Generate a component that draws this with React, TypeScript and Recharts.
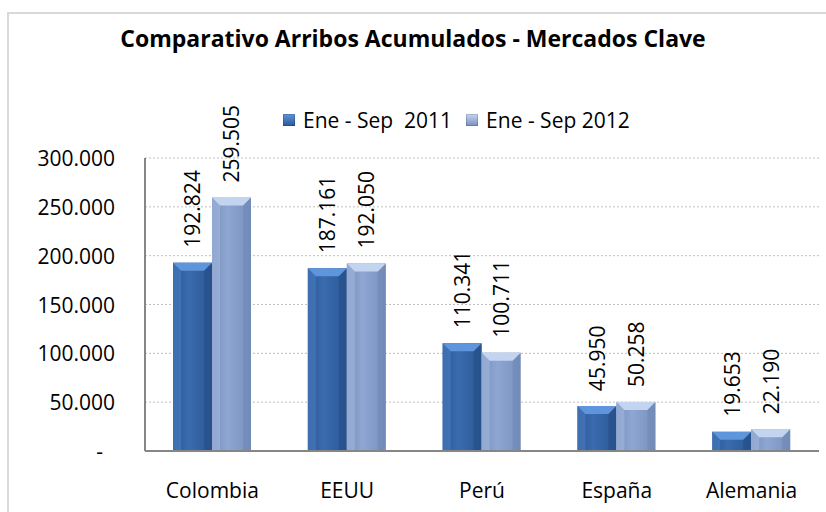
import React from 'react';
import { BarChart, Bar, XAxis, YAxis, CartesianGrid, LabelList } from 'recharts';

const markets = ['Colombia', 'EEUU', 'Perú', 'España', 'Alemania'];
const arrivals2011 = [192824, 187161, 110341, 45950, 19653];
const arrivals2012 = [259505, 192050, 100711, 50258, 22190];
const yTicks = [0, 50000, 100000, 150000, 200000, 250000, 300000];

const seriesNames = ['Ene - Sep  2011', 'Ene - Sep 2012'];

const data = markets.map((m, i) => ({ market: m, a2011: arrivals2011[i], a2012: arrivals2012[i] }));

const FONT = '"Open Sans", "Liberation Sans", sans-serif';

const fmt = (v: number) => String(Math.round(v)).replace(/\B(?=(\d{3})+(?!\d))/g, '.');

const palette: Record<string, { top: string; left: string; right: string; mid: string; edge: string }> = {
  a: { top: '#5F95DC', left: '#4B7DC2', right: '#244C85', mid: '#3A6BAE', edge: '#2B5895' },
  b: { top: '#C2D4EF', left: '#A3B9DE', right: '#6F87B5', mid: '#8EA6D1', edge: '#7890BE' },
};

const BevelBar = (props: any) => {
  const { x, y, width: w, height: h, kind } = props;
  if (!h || h <= 0) return null;
  const c = palette[kind];
  const b = Math.min(8, h / 2, w / 4);
  return (
    <g>
      <rect x={x} y={y} width={w} height={h} fill={`url(#grad-${kind})`} />
      <polygon points={`${x},${y} ${x + b},${y + b} ${x + b},${y + h} ${x},${y + h}`} fill={c.left} opacity={0.6} />
      <polygon points={`${x + w},${y} ${x + w - b},${y + b} ${x + w - b},${y + h} ${x + w},${y + h}`} fill={c.right} opacity={0.55} />
      <polygon points={`${x},${y} ${x + w},${y} ${x + w - b},${y + b} ${x + b},${y + b}`} fill={c.top} />
    </g>
  );
};

const RotLabel = (props: any) => {
  const { x, y, width, value } = props;
  const cx = x + width / 2;
  const ty = y - 15;
  return (
    <text
      x={cx}
      y={ty}
      transform={`rotate(-90 ${cx} ${ty})`}
      textAnchor="start"
      dominantBaseline="central"
      fontSize={21}
      fontFamily={FONT}
      fill="#000"
    >
      {fmt(value)}
    </text>
  );
};

const YTick = (props: any) => {
  const { x, y, payload } = props;
  const v = payload.value;
  return (
    <text x={v === 0 ? x - 12 : x} y={y} textAnchor="end" dominantBaseline="central" fontSize={21} fontFamily={FONT} fill="#000">
      {v === 0 ? '-' : fmt(v)}
    </text>
  );
};

const LegendBox = () => (
  <div
    style={{
      position: 'absolute',
      left: 283,
      top: 106,
      display: 'flex',
      alignItems: 'center',
      fontFamily: FONT,
      fontSize: 21,
      color: '#000',
      whiteSpace: 'pre',
    }}
  >
    {seriesNames.map((n, i) => (
      <div key={n} style={{ display: 'flex', alignItems: 'center', marginRight: 14 }}>
        <div
          style={{
            width: 12,
            height: 12,
            marginRight: 8,
            background: i === 0 ? 'linear-gradient(#5F95DC, #2B5895)' : 'linear-gradient(#C6D6EF, #7890BE)',
            boxShadow: 'inset 0 0 0 1px rgba(0,0,0,0.15)',
          }}
        />
        <span>{n}</span>
      </div>
    ))}
  </div>
);

export default function App() {
  return (
    <div style={{ position: 'absolute', left: 0, top: 0, width: 826, height: 512, overflow: 'hidden', background: '#fff', fontFamily: FONT }}>
      <div style={{ position: 'absolute', left: 7, top: 12, width: 840, height: 520, border: '2px solid #D9D9D9' }} />
      <div
        style={{
          position: 'absolute',
          left: 0,
          top: 22,
          width: 826,
          textAlign: 'center',
          fontSize: 23,
          fontWeight: 700,
          color: '#000',
        }}
      >
        Comparativo Arribos Acumulados - Mercados Clave
      </div>
      <BarChart
        width={826}
        height={512}
        data={data}
        margin={{ top: 158, right: 7, bottom: 31, left: 65 }}
        barGap={0}
        barSize={39}
        style={{ position: 'absolute', left: 0, top: 0 }}
      >
        <defs>
          {(['a', 'b'] as const).map((k) => (
            <linearGradient key={k} id={`grad-${k}`} x1="0" y1="0" x2="1" y2="0">
              <stop offset="0%" stopColor={palette[k].edge} />
              <stop offset="40%" stopColor={palette[k].mid} />
              <stop offset="100%" stopColor={palette[k].edge} />
            </linearGradient>
          ))}
        </defs>
        <CartesianGrid vertical={false} stroke="#BFBFBF" strokeDasharray="2 2" />
        <XAxis
          dataKey="market"
          tickLine={false}
          axisLine={{ stroke: '#868686', strokeWidth: 2 }}
          tickSize={0}
          tickMargin={32}
          height={30}
          tick={{ fontSize: 21, fontFamily: FONT, fill: '#000' }}
          interval={0}
        />
        <YAxis
          domain={[0, 300000]}
          ticks={yTicks}
          width={80}
          tickLine={false}
          axisLine={{ stroke: '#868686', strokeWidth: 2 }}
          tickSize={0}
          tickMargin={30}
          tick={<YTick />}
        />
        <Bar dataKey="a2011" name={seriesNames[0]} isAnimationActive={false} shape={(p: any) => <BevelBar {...p} kind="a" />}>
          <LabelList dataKey="a2011" content={<RotLabel />} />
        </Bar>
        <Bar dataKey="a2012" name={seriesNames[1]} isAnimationActive={false} shape={(p: any) => <BevelBar {...p} kind="b" />}>
          <LabelList dataKey="a2012" content={<RotLabel />} />
        </Bar>
      </BarChart>
      <LegendBox />
    </div>
  );
}
